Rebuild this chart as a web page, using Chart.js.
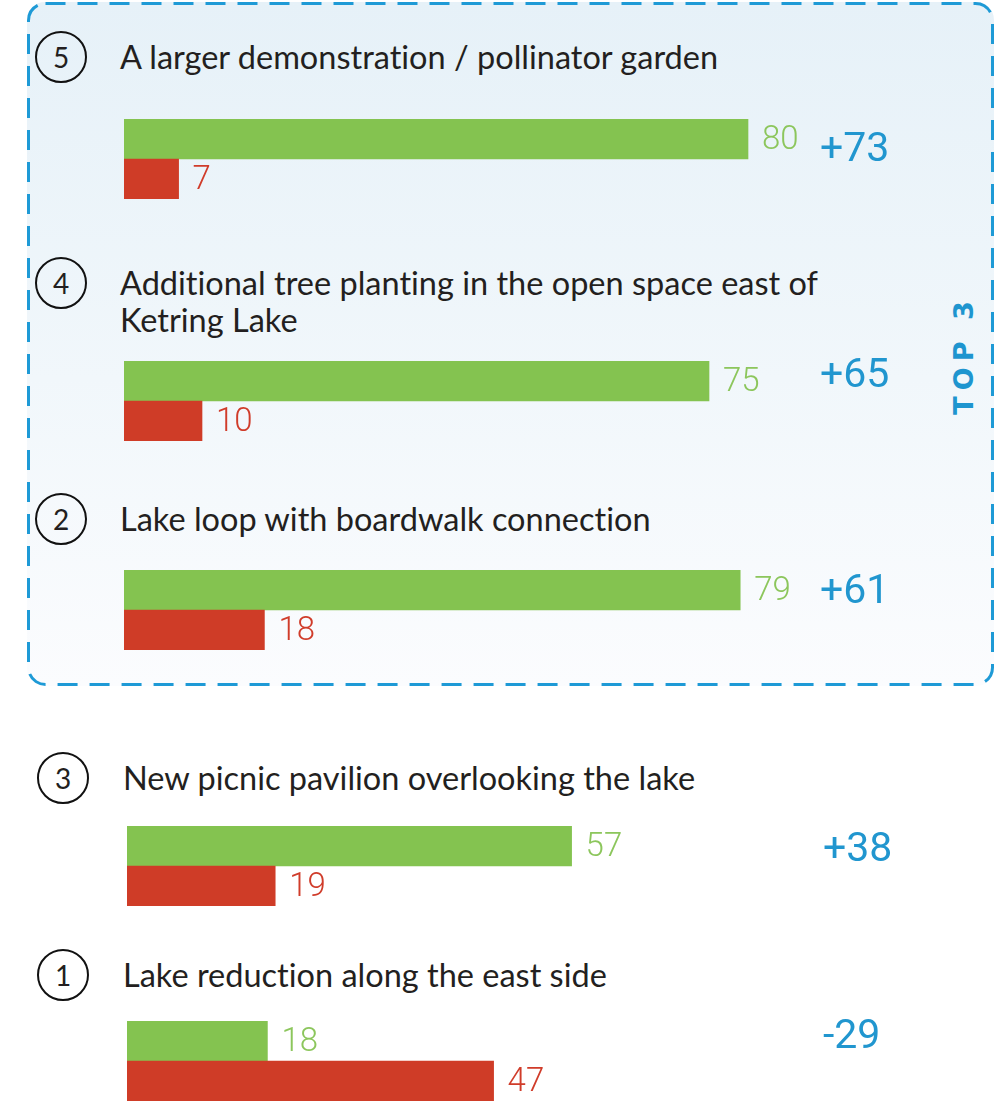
<!DOCTYPE html>
<html>
<head>
<meta charset="utf-8">
<script src="https://cdn.jsdelivr.net/npm/chart.js@4.4.1/dist/chart.umd.min.js"></script>
<style>
  html, body { margin: 0; padding: 0; background: #fff; }
  body { width: 996px; height: 1109px; position: relative; overflow: hidden; font-family: Lato, "Noto Sans", sans-serif; color: #231f20; }
  .top-box { position: absolute; left: 27px; top: 2px; width: 967px; height: 684px; border-radius: 18px;
             background: linear-gradient(to bottom, #e6f1f8 0%, #f1f7fb 55%, #fbfcfe 100%); }
  .top-box svg { position: absolute; left: 0; top: 0; overflow: visible; }
  .top-label { position: absolute; left: 963px; top: 355px; transform: translate(-50%, -50%) rotate(-90deg);
               font: 700 27px "DejaVu Sans", sans-serif; letter-spacing: 6px; color: #1e95cf; white-space: nowrap; }
  .num { position: absolute; width: 52px; height: 52px; border: 2.3px solid #111; border-radius: 50%;
         box-sizing: border-box; display: flex; align-items: center; justify-content: center;
         font-size: 28px; font-weight: 400; transform: translate(-50%, -50%); }
  .label { position: absolute; font-size: 32.5px; line-height: 37px; transform: translateY(-19px);
           font-variant-ligatures: none; }
  canvas { position: absolute; }
</style>
</head>
<body>
<div class="top-box">
  <svg width="967" height="684">
    <rect x="1.5" y="1.5" width="964" height="681" rx="17" ry="17" fill="none" stroke="#1e9ad6" stroke-width="3" stroke-dasharray="20 12"/>
  </svg>
</div>
<div class="top-label">TOP 3</div>
<div id="rows"></div>

<script>
// data
const itemNumbers = [5, 4, 2, 3, 1];
const itemLabels = [
  'A larger demonstration / pollinator garden',
  'Additional tree planting in the open space east of<br>Ketring Lake',
  'Lake loop with boardwalk connection',
  'New picnic pavilion overlooking the lake',
  'Lake reduction along the east side'
];
const barCategories = ['Support', 'Oppose'];
const supportValues = [80, 75, 79, 57, 18];
const opposeValues = [7, 10, 18, 19, 47];
const axisMax = 100;

// layout of each block (pixels)
const layout = [
  { circleX: 61, labelX: 120, labelY: 57, barTop: 119, barLeft: 124 },
  { circleX: 61, labelX: 120, labelY: 283, barTop: 361, barLeft: 124 },
  { circleX: 61, labelX: 120, labelY: 519, barTop: 570, barLeft: 124 },
  { circleX: 63, labelX: 123, labelY: 778, barTop: 826, barLeft: 127 },
  { circleX: 63, labelX: 123, labelY: 975, barTop: 1021, barLeft: 127 }
];
const diffOffsets = [12, -4, 3, 5, -3];
const pad = 30;

const green = '#84c350';
const red = '#cf3c27';
const greenText = '#8cc65c';
const redText = '#d03c2a';
const blue = '#2196cf';

const valueLabels = {
  id: 'valueLabels',
  afterDatasetsDraw(chart, args, opts) {
    const ctx = chart.ctx;
    const meta = chart.getDatasetMeta(0);
    const vals = chart.data.datasets[0].data;
    ctx.save();
    ctx.textBaseline = 'middle';
    ctx.font = '300 33px Roboto, "Liberation Sans", sans-serif';
    meta.data.forEach((bar, i) => {
      ctx.fillStyle = i === 0 ? greenText : redText;
      ctx.fillText(String(vals[i]), bar.x + 14, bar.y + 2);
    });
    // net difference
    const diff = vals[0] - vals[1];
    ctx.font = '400 41px Roboto, "Liberation Sans", sans-serif';
    ctx.fillStyle = blue;
    ctx.fillText((diff > 0 ? '+' : '') + diff, opts.diffX, meta.data[0].y + opts.diffDy);
    ctx.restore();
  }
};

const rows = document.getElementById('rows');

itemLabels.forEach((text, i) => {
  const L = layout[i];
  const num = document.createElement('div');
  num.className = 'num';
  num.style.left = L.circleX + 'px';
  num.style.top = L.labelY + 'px';
  num.textContent = itemNumbers[i];
  rows.appendChild(num);

  const lab = document.createElement('div');
  lab.className = 'label';
  lab.style.left = L.labelX + 'px';
  lab.style.top = L.labelY + 'px';
  lab.innerHTML = text;
  rows.appendChild(lab);

  const cv = document.createElement('canvas');
  cv.width = 800;
  cv.height = 80 + pad * 2;
  cv.style.left = L.barLeft + 'px';
  cv.style.top = (L.barTop - pad) + 'px';
  rows.appendChild(cv);

  new Chart(cv.getContext('2d'), {
    type: 'bar',
    data: {
      labels: barCategories,
      datasets: [{
        data: [supportValues[i], opposeValues[i]],
        backgroundColor: [green, red],
        borderWidth: 0,
        barPercentage: 1,
        categoryPercentage: 1
      }]
    },
    options: {
      indexAxis: 'y',
      responsive: false,
      animation: false,
      layout: { padding: { left: 0, right: 20, top: pad, bottom: pad } },
      scales: {
        x: { display: false, min: 0, max: axisMax },
        y: { display: false }
      },
      plugins: {
        legend: { display: false },
        tooltip: { enabled: false },
        valueLabels: { diffX: 820 - L.barLeft + (i > 2 ? 3 : 0), diffDy: diffOffsets[i] }
      }
    },
    plugins: [valueLabels]
  });
});
</script>
</body>
</html>
